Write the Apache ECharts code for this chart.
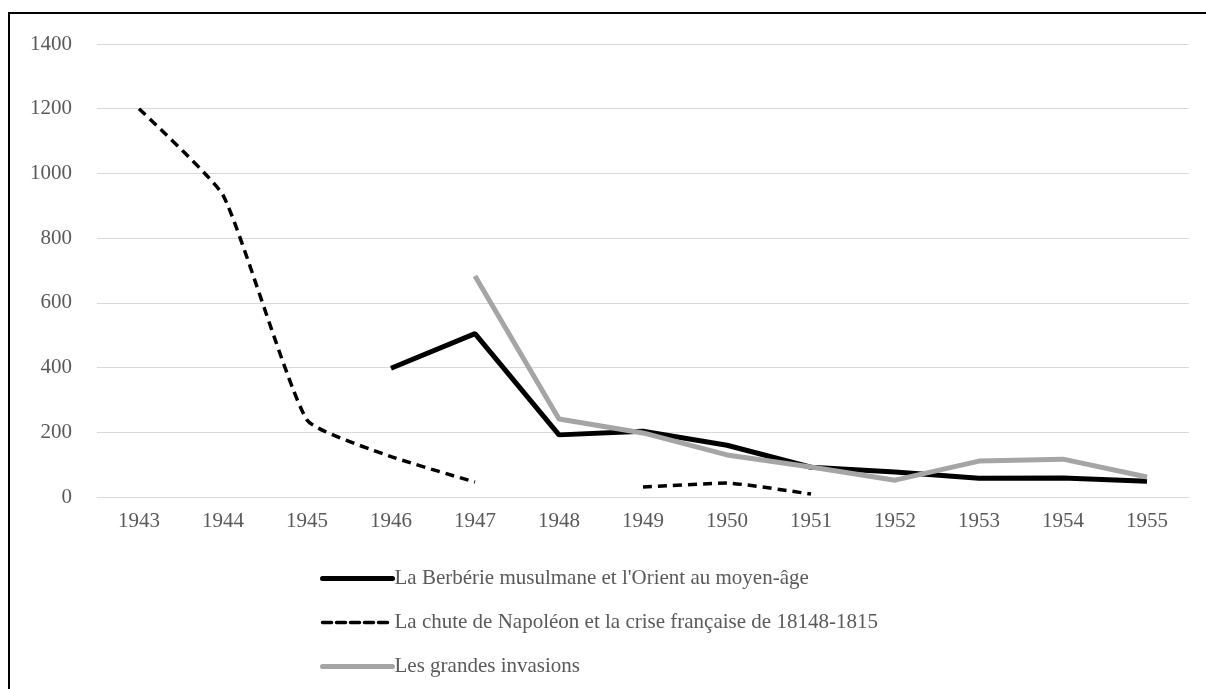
<!DOCTYPE html>
<html lang="fr">
<head>
    <meta charset="UTF-8">
    <title>Chart</title>
    <style>
        *{
            padding: 0;
            margin: 0;
        }
        .EC{
            width: 1206px;
            height: 689px;
            background: #fff;
        }
    </style>
</head>
<body>
<div class="EC"></div>
<script src="https://cdn.jsdelivr.net/npm/echarts@6/dist/echarts.min.js"></script>
<script>
    const years = ['1943', '1944', '1945', '1946', '1947', '1948', '1949', '1950', '1951', '1952', '1953', '1954', '1955']
    const berberie = [null, null, null, 398, 505, 192, 203, 160, 92, 77, 58, 59, 49]
    const napoleon = [1200, 933, 238, 125, 46, null, 31, 43, 9, null, null, null, null]
    const invasions = [null, null, null, null, 683, 241, 198, 130, 93, 52, 111, 117, 62]
    const names = [
        "La Berbérie musulmane et l'Orient au moyen-âge",
        'La chute de Napoléon et la crise française de 18148-1815',
        'Les grandes invasions'
    ]

    let EC = echarts.init(document.querySelector('.EC'))
    const font = "'Liberation Serif', 'DejaVu Serif', serif"
    let option = {
        backgroundColor: '#fff',
        animation: false,
        textStyle: { fontFamily: font },
        // cadre noir autour du graphique
        graphic: [{
            type: 'rect',
            shape: { x: 9, y: 13, width: 1260, height: 720 },
            style: { fill: 'none', stroke: '#000', lineWidth: 2 },
            silent: true
        }],
        grid: {
            left: 97,
            right: 17,
            top: 44,
            bottom: 192
        },
        legend: {
            orient: 'vertical',
            left: 315,
            top: 563,
            itemWidth: 70,
            itemHeight: 12,
            itemGap: 23,
            itemStyle: { opacity: 0 },
            textStyle: { color: '#595959', fontSize: 21, fontFamily: font, padding: [0, 0, 0, -3] },
            data: [
                { name: names[0], lineStyle: { width: 5, color: '#000', cap: 'round' } },
                { name: names[1], lineStyle: { width: 3.5, color: '#000', type: [9, 5], cap: 'round' } },
                { name: names[2], lineStyle: { width: 5, color: '#a5a5a5', cap: 'round' } }
            ]
        },
        xAxis: {
            type: 'category',
            data: years,
            boundaryGap: true,
            axisLine: { lineStyle: { color: '#d9d9d9', width: 1 } },
            axisTick: { show: false },
            axisLabel: { color: '#595959', fontSize: 21, margin: 14 }
        },
        yAxis: {
            type: 'value',
            min: 0,
            max: 1400,
            interval: 200,
            axisLine: { show: false },
            axisTick: { show: false },
            axisLabel: { color: '#595959', fontSize: 21, margin: 25, formatter: v => String(v) },
            splitLine: { lineStyle: { color: '#d9d9d9', width: 1 } }
        },
        series: [{
            name: names[0],
            type: 'line',
            data: berberie,
            symbol: 'none',
            lineStyle: { color: '#000', width: 5 },
            itemStyle: { color: '#000' }
        }, {
            name: names[1],
            type: 'line',
            data: napoleon,
            symbol: 'none',
            smooth: 0.15,
            lineStyle: { color: '#000', width: 3.5, type: [9, 6] },
            itemStyle: { color: '#000' }
        }, {
            name: names[2],
            type: 'line',
            data: invasions,
            symbol: 'none',
            lineStyle: { color: '#a5a5a5', width: 5 },
            itemStyle: { color: '#a5a5a5' }
        }]
    }
    EC.setOption(option)
</script>
</body>
</html>
